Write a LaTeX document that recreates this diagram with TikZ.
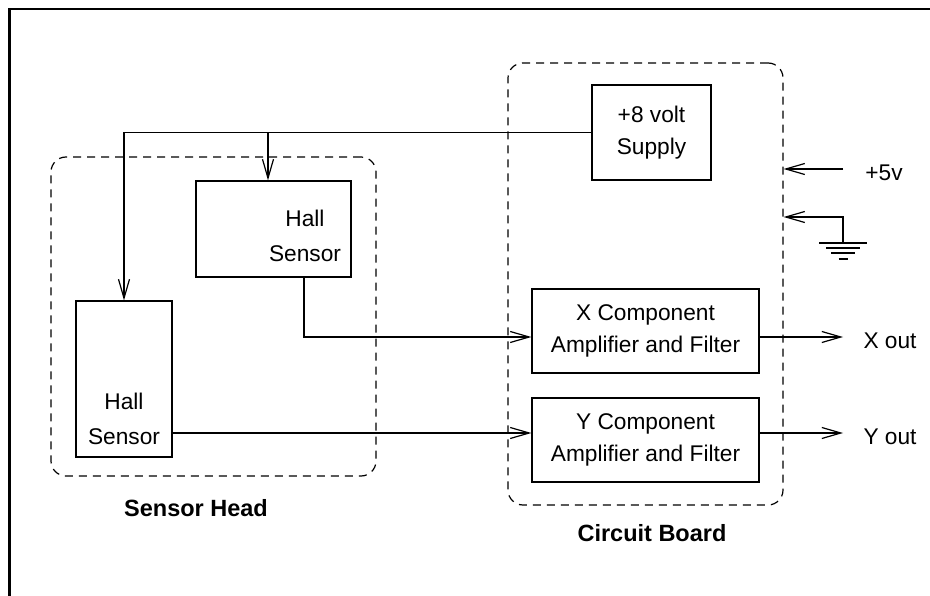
\documentclass[tikz,border=0pt]{standalone}
\usepackage{fontspec}
\setmainfont{Liberation Sans}
\usetikzlibrary{positioning, calc, arrows.meta}

\begin{document}
\begin{tikzpicture}[x=1pt, y=-1pt,
		font=\fontsize{22.7}{32}\selectfont,
		block/.style={draw, rectangle, align=center, line width=1.2pt, inner sep=0pt},
		label text/.style={align=center, font=\fontsize{22.7}{35}\selectfont},
		group/.style={draw, rectangle, rounded corners=15pt, dash pattern=on 8pt off 6pt, line width=1.2pt},
		caption/.style={font=\fontsize{23.5}{26}\selectfont\bfseries},
		wire/.style={line width=1.2pt},
		arrow/.style={wire, -{Straight Barb[length=19pt, width=11pt]}}]
	\useasboundingbox (0,0) rectangle (930,596);
	\draw[line width=2.5pt] (9.5,596) -- (9.5,9) -- (930,9);

	% dashed groups
	\node[group, minimum width=325pt, minimum height=319pt] (head) at (213.5,316.5) {};
	\node[group, minimum width=275pt, minimum height=442pt] (board) at (645.5,284) {};
	\node[caption] (headlbl) at (196,508) {Sensor Head};
	\node[caption] (boardlbl) at (652,533) {Circuit Board};

	% blocks
	\node[block, minimum width=119pt, minimum height=95pt] (supply) at (651.5,132.5) {+8 volt\\Supply};
	\node[block, minimum width=155pt, minimum height=96pt] (hallA) at (273.5,229) {};
	\node[label text] (hallAtxt) at (305,236) {Hall\\Sensor};
	\node[block, minimum width=96pt, minimum height=156pt] (hallB) at (124,379) {};
	\node[label text] (hallBtxt) at (124,419) {Hall\\Sensor};
	\node[block, minimum width=227pt, minimum height=84pt] (xamp) at (645.5,331) {X Component\\Amplifier and Filter};
	\node[block, minimum width=227pt, minimum height=84pt] (yamp) at (645.5,440) {Y Component\\Amplifier and Filter};

	% terminals
	\node (v5) at (884,173) {+5v};
	\node (xout) at (890,341) {X out};
	\node (yout) at (890,437) {Y out};
	\coordinate (v5in) at (843,169);
	\coordinate (gndin) at (843,217);
	\coordinate (gnd) at (843,243);
	\coordinate (xend) at (843,337);
	\coordinate (yend) at (843,433);
	\coordinate (tap) at (268,132.5);
	\coordinate (hallAout) at (304,277);

	% supply lines
	\draw[arrow] (supply.west) -| (hallB.north);
	\draw[arrow] (tap) -- (tap |- hallA.north);
	\draw[arrow] (v5in) -- (v5in -| board.east);
	\draw[arrow] (gnd) |- (board.east |- gndin);
	\foreach \w/\dy in {24/0, 17/5, 12/10, 4.5/16}
		\draw[wire] ($(gnd)+(-\w,\dy)$) -- ($(gnd)+(\w,\dy)$);

	% signals
	\draw[arrow] (hallAout) |- (xamp.west |- xend);
	\draw[arrow] (hallB.east |- yend) -- (yamp.west |- yend);
	\draw[arrow] (xamp.east |- xend) -- (xend);
	\draw[arrow] (yamp.east |- yend) -- (yend);
\end{tikzpicture}
\end{document}
